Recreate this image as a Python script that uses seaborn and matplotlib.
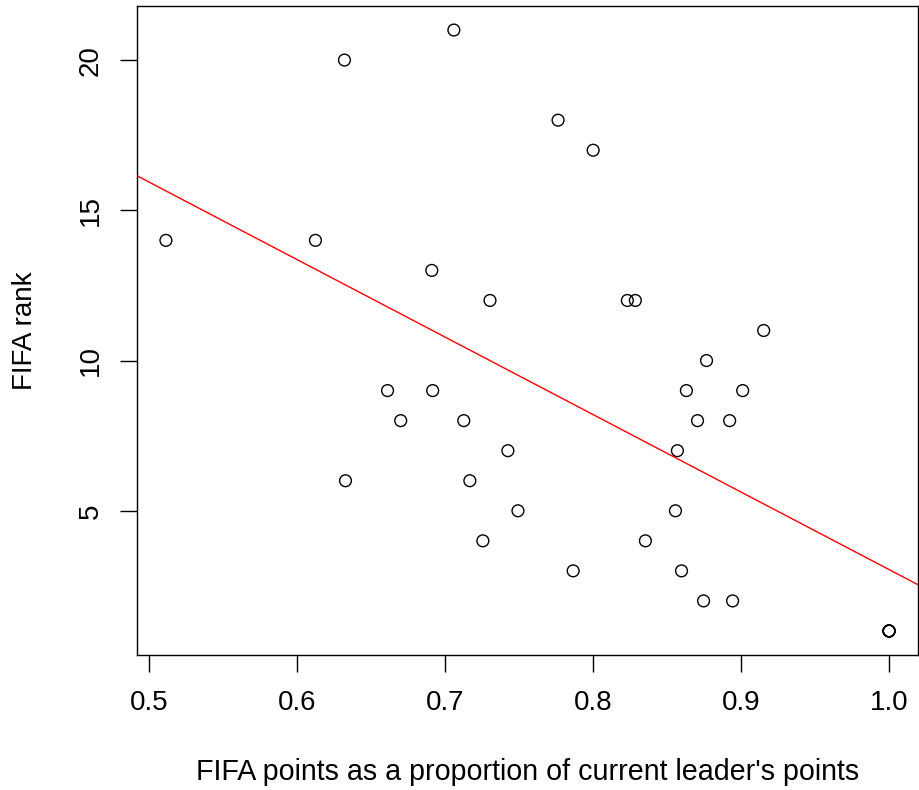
import numpy as np
import pandas as pd
import matplotlib
matplotlib.use("Agg")
import matplotlib.pyplot as plt
import seaborn as sns

# FIFA points as proportion of current leader's points
proportion = [0.5115, 0.6321, 0.7060, 0.7764, 0.8001, 0.6125, 0.6911, 0.7304,
              0.8232, 0.8286, 0.9153, 0.8767, 0.6612, 0.6917, 0.8631, 0.9011,
              0.6701, 0.7127, 0.8706, 0.8923, 0.7425, 0.8570, 0.6328, 0.7168,
              0.7493, 0.8557, 0.7256, 0.8354, 0.7866, 0.8598, 0.8747, 0.8943,
              1.0, 1.0, 1.0, 1.0, 1.0]
# FIFA rank
rank = [14, 20, 21, 18, 17, 14, 13, 12,
        12, 12, 11, 10, 9, 9, 9, 9,
        8, 8, 8, 8, 7, 7, 6, 6,
        5, 5, 4, 4, 3, 3, 2, 2,
        1, 1, 1, 1, 1]

x_ticks = [0.5, 0.6, 0.7, 0.8, 0.9, 1.0]
x_tick_labels = ["0.5", "0.6", "0.7", "0.8", "0.9", "1.0"]
y_ticks = [5, 10, 15, 20]
y_tick_labels = ["5", "10", "15", "20"]

sns.set_style("white")
plt.rcParams['font.family'] = ['Liberation Sans Narrow', 'Liberation Sans', 'DejaVu Sans']

df = pd.DataFrame({"proportion": proportion, "rank": rank})

fig = plt.figure(figsize=(9.2, 7.9), dpi=100)
ax = fig.add_axes([137 / 920, 1 - 655 / 790, (918 - 137) / 920, (655 - 6) / 790])

# R-style 4% axis padding
xmin, xmax = min(proportion), max(proportion)
ymin, ymax = min(rank), max(rank)
xpad = 0.04 * (xmax - xmin)
ypad = 0.04 * (ymax - ymin)
xlim = (xmin - xpad, xmax + xpad)
ylim = (ymin - ypad, ymax + ypad)
ax.set_xlim(*xlim)
ax.set_ylim(*ylim)

sns.regplot(data=df, x="proportion", y="rank", ax=ax, ci=None, truncate=False,
            scatter_kws=dict(facecolors="none", edgecolors="black", s=72,
                             linewidths=1.0, alpha=1.0, zorder=2),
            line_kws=dict(color="red", linewidth=1.0, zorder=3))

ax.set_xlim(*xlim)
ax.set_ylim(*ylim)

ax.set_xticks(x_ticks)
ax.set_xticklabels(x_tick_labels)
ax.set_yticks(y_ticks)
ax.set_yticklabels(y_tick_labels, rotation=90, va="center")

ax.tick_params(axis="both", direction="out", length=12, width=1.0,
               color="black", labelsize=20, labelcolor="black", pad=12)
ax.tick_params(axis="x", pad=13)
ax.tick_params(bottom=True, left=True)

for sp in ax.spines.values():
    sp.set_visible(True)
    sp.set_color("black")
    sp.set_linewidth(1.0)

ax.set_xlabel("FIFA points as a proportion of current leader's points", fontsize=20.6, color="black")
ax.set_ylabel("FIFA rank", fontsize=20, color="black")
ax.xaxis.set_label_coords(0.5, (655 - 758) / 649)
ax.yaxis.set_label_coords((38 - 137) / 781, 0.5)

fig.savefig("out.png", dpi=100, facecolor="white")
